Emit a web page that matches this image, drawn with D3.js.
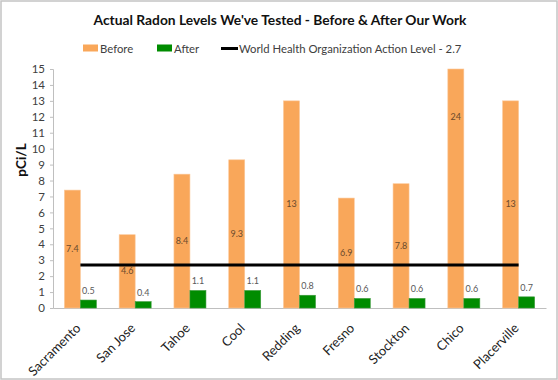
<!DOCTYPE html>
<html><head><meta charset="utf-8">
<script src="https://cdn.jsdelivr.net/npm/d3@7"></script>
<style>body{margin:0;background:#fff}svg{display:block}</style>
</head><body>
<script>
const categories = ["Sacramento","San Jose","Tahoe","Cool","Redding","Fresno","Stockton","Chico","Placerville"];
const before = [7.4, 4.6, 8.4, 9.3, 13, 6.9, 7.8, 24, 13];
const after = [0.5, 0.4, 1.1, 1.1, 0.8, 0.6, 0.6, 0.6, 0.7];
const actionLevel = 2.7;
const yTicks = [0,1,2,3,4,5,6,7,8,9,10,11,12,13,14,15];
const seriesNames = ["Before","After","World Health Organization Action Level - 2.7"];
const title = "Actual Radon Levels We've Tested - Before & After Our Work";
const yTitle = "pCi/L";

const W = 558, H = 380;
const FONT = "Lato, 'Open Sans', sans-serif";
const ORANGE = "#F9A75A", GREEN = "#008C00";
const svg = d3.select("body").append("svg").attr("width", W).attr("height", H);

svg.append("rect").attr("x",1).attr("y",1).attr("width",W-2).attr("height",H-2)
  .attr("fill","#fff").attr("stroke","#c4c4c4").attr("stroke-width",1.5);

svg.append("text").attr("x",280).attr("y",25).attr("text-anchor","middle")
  .attr("font-family",FONT).attr("font-weight","bold").attr("font-size",13.8)
  .attr("fill","#111").text(title);

const plot = {l:53, r:546, t:69, b:308};
const x = d3.scaleBand().domain(categories).range([plot.l, plot.r]).paddingInner(0).paddingOuter(0);
const y = d3.scaleLinear().domain([0,15]).range([plot.b, plot.t]);
const barW = 16;
const off = (x.bandwidth() - 2*barW)/2;

// axes
const yAxis = d3.axisLeft(y).tickValues(yTicks).tickSize(3).tickPadding(5);
const gy = svg.append("g").attr("transform",`translate(${plot.l},0)`).call(yAxis);
gy.select(".domain").attr("stroke","#bfbfbf");
gy.selectAll(".tick line").attr("stroke","#bfbfbf");
gy.selectAll(".tick text").attr("font-family",FONT).attr("font-size",11.5).attr("fill","#404040");

const xAxis = d3.axisBottom(x).tickSize(0).tickFormat("");
const gx = svg.append("g").attr("transform",`translate(0,${plot.b})`).call(xAxis);
gx.select(".domain").attr("stroke","#bfbfbf");

// category labels
svg.append("g").selectAll("text").data(categories).join("text")
  .attr("transform", d => `translate(${x(d)+x.bandwidth()/2+1},${plot.b+21}) rotate(-45)`)
  .attr("text-anchor","end").attr("font-family",FONT).attr("font-size",13)
  .attr("fill","#222").text(d => d);

const clip = v => Math.min(v, 15);
// before bars
svg.append("g").selectAll("rect").data(before).join("rect")
  .attr("x",(d,i)=>x(categories[i])+off).attr("width",barW)
  .attr("y",d=>y(clip(d))).attr("height",d=>plot.b-y(clip(d)))
  .attr("fill",ORANGE).attr("stroke","#fbc89a").attr("stroke-width",0.6);
// after bars
svg.append("g").selectAll("rect").data(after).join("rect")
  .attr("x",(d,i)=>x(categories[i])+off+barW).attr("width",barW)
  .attr("y",d=>y(d)).attr("height",d=>plot.b-y(d))
  .attr("fill",GREEN).attr("stroke","#3a9a3a").attr("stroke-width",0.6);

// labels
svg.append("g").selectAll("text").data(before).join("text")
  .attr("x",(d,i)=>x(categories[i])+off+barW/2).attr("y",d=>y(d/2)+3)
  .attr("text-anchor","middle").attr("font-family",FONT).attr("font-size",9)
  .attr("fill","#6b4a2c").text(d=>d);
svg.append("g").selectAll("text").data(after).join("text")
  .attr("x",(d,i)=>x(categories[i])+off+barW*1.5).attr("y",d=>y(d)-6)
  .attr("text-anchor","middle").attr("font-family",FONT).attr("font-size",9)
  .attr("fill","#595959").text(d=>d);

// action level line
svg.append("line")
  .attr("x1",x(categories[0])+x.bandwidth()/2).attr("x2",x(categories[categories.length-1])+x.bandwidth()/2)
  .attr("y1",y(actionLevel)).attr("y2",y(actionLevel))
  .attr("stroke","#000").attr("stroke-width",3);

// y title
svg.append("text").attr("transform","translate(26,160) rotate(-90)")
  .attr("text-anchor","middle").attr("font-family",FONT).attr("font-weight","bold").attr("font-size",13.5)
  .attr("fill","#111").text(yTitle);

// legend
const lg = svg.append("g").attr("font-family",FONT).attr("font-size",11.3).attr("fill","#404040");
lg.append("rect").attr("x",83).attr("y",44.5).attr("width",15).attr("height",7).attr("fill",ORANGE);
lg.append("text").attr("x",100).attr("y",52.5).text(seriesNames[0]);
lg.append("rect").attr("x",157).attr("y",44.5).attr("width",15).attr("height",7).attr("fill",GREEN);
lg.append("text").attr("x",174).attr("y",52.5).text(seriesNames[1]);
lg.append("line").attr("x1",221).attr("x2",238).attr("y1",48.5).attr("y2",48.5).attr("stroke","#000").attr("stroke-width",3);
lg.append("text").attr("x",239).attr("y",52.5).text(seriesNames[2]);
</script>
</body></html>
